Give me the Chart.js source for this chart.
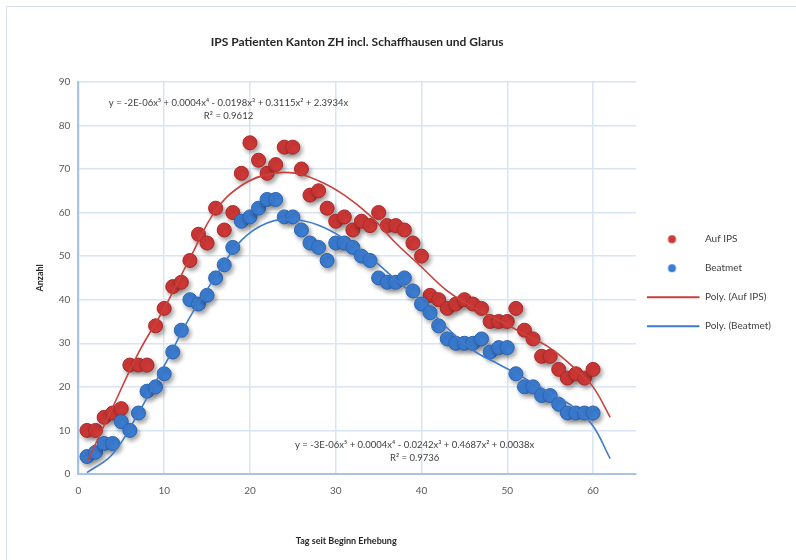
<!DOCTYPE html>
<html><head><meta charset="utf-8">
<script src="https://cdn.jsdelivr.net/npm/chart.js@4"></script>
<style>html,body{margin:0;padding:0;background:#fff}#wrap{width:796px;height:560px;position:relative}</style>
</head><body><div id="wrap"><canvas id="c" width="796" height="560"></canvas></div>
<script>
// ---- data ----
const days = [1,2,3,4,5,6,7,8,9,10,11,12,13,14,15,16,17,18,19,20,21,22,23,24,25,26,27,28,29,30,
              31,32,33,34,35,36,37,38,39,40,41,42,43,44,45,46,47,48,49,50,51,52,53,54,55,56,57,58,59,60];
const aufIPS = [10,10,13,14,15,25,25,25,34,38,43,44,49,55,53,61,56,60,69,76,72,69,71,75,75,70,64,65,61,58,
                59,56,58,57,60,57,57,56,53,50,41,40,38,39,40,39,38,35,35,35,38,33,31,27,27,24,22,23,22,24];
const beatmet = [4,5,7,7,12,10,14,19,20,23,28,33,40,39,41,45,48,52,58,59,61,63,63,59,59,56,53,52,49,53,
                 53,52,50,49,45,44,44,45,42,39,37,34,31,30,30,30,31,28,29,29,23,20,20,18,18,16,14,14,14,14];
// polynomial trend lines
const trendDays = [1,4,7,10,13,16,19,22,25,28,31,34,37,40,43,46,49,52,55,58,60,62];
const trendAuf  = [2.7,15.3,27.8,38,49.5,60.5,66.2,68.7,69.1,67.3,64,59.3,53,47.5,42,38.3,35.3,32.1,28.9,24,20,13];
const trendBeat = [0.3,4.6,14,24.8,36,45.3,53.6,57.6,58.4,57.1,54,49.7,44.6,39.5,33.5,28.4,25.2,22,18.6,15,11,3.5];
const yTicks = [0,10,20,30,40,50,60,70,80,90];
const xTicks = [0,10,20,30,40,50,60];
const seriesLabels = ['Auf IPS','Beatmet','Poly. (Auf IPS)','Poly. (Beatmet)'];
const eqAuf = ['y = -2E-06x\u2075 + 0.0004x\u2074 - 0.0198x\u00B3 + 0.3115x\u00B2 + 2.3934x', 'R\u00B2 = 0.9612'];
const eqBeat = ['y = -3E-06x\u2075 + 0.0004x\u2074 - 0.0242x\u00B3 + 0.4687x\u00B2 + 0.0038x', 'R\u00B2 = 0.9736'];

const FONT = 'Lato, "Open Sans", "Liberation Sans", sans-serif';
const RED = '#CF3836', BLUE = '#3B7DD3';

function legendStyle(kind, color) {
  const c = document.createElement('canvas'); c.width = 60; c.height = 12;
  const g = c.getContext('2d');
  if (kind === 'dot') { g.fillStyle = color; g.beginPath(); g.arc(24.5, 6, 4, 0, Math.PI * 2); g.fill(); }
  else { g.strokeStyle = color; g.lineWidth = 2; g.beginPath(); g.moveTo(0, 6); g.lineTo(52, 6); g.stroke(); }
  return c;
}
const legendStyles = [legendStyle('dot', RED), legendStyle('dot', BLUE), legendStyle('line', '#C8413B'), legendStyle('line', '#3F7BC8')];

const bgPlugin = {
  id: 'bg',
  beforeDraw(chart) {
    const ctx = chart.ctx; ctx.save();
    ctx.fillStyle = '#fff'; ctx.fillRect(0, 0, chart.width, chart.height);
    ctx.strokeStyle = '#D5DDE8'; ctx.lineWidth = 1;
    ctx.beginPath(); ctx.moveTo(6.5, chart.height); ctx.lineTo(6.5, 6.5); ctx.lineTo(chart.width, 6.5); ctx.stroke();
    ctx.restore();
  }
};
const shadowPlugin = {
  id: 'shadow',
  beforeDatasetDraw(chart, args) {
    if (chart.data.datasets[args.index].isPoints) {
      const ctx = chart.ctx; ctx.save();
      ctx.shadowColor = 'rgba(0,0,0,0.35)'; ctx.shadowBlur = 4; ctx.shadowOffsetX = 2; ctx.shadowOffsetY = 3;
    }
  },
  afterDatasetDraw(chart, args) {
    if (chart.data.datasets[args.index].isPoints) chart.ctx.restore();
  }
};
const eqPlugin = {
  id: 'eq',
  afterDatasetsDraw(chart) {
    const {ctx, scales: {x, y}} = chart;
    const items = [{pos: [17.5, 85.2], lines: eqAuf}, {pos: [39.2, 6.7], lines: eqBeat}];
    ctx.save();
    ctx.font = '9.5px ' + FONT; ctx.fillStyle = '#404040'; ctx.textAlign = 'center'; ctx.textBaseline = 'middle';
    items.forEach(it => {
      const px = x.getPixelForValue(it.pos[0]), py = y.getPixelForValue(it.pos[1]);
      it.lines.forEach((t, i) => ctx.fillText(t, px, py + i * 13.5));
    });
    ctx.restore();
  }
};

const tickFont = {family: FONT, size: 10};
const titleFont = {family: FONT, size: 9, weight: 'bold'};

new Chart(document.getElementById('c'), {
  type: 'scatter',
  data: {
    datasets: [
      {label: seriesLabels[0], data: days.map((d, i) => ({x: d, y: aufIPS[i]})), backgroundColor: RED, borderColor: '#A92A2A',
       borderWidth: 1, pointRadius: 7, pointHoverRadius: 7, order: 3, isPoints: true},
      {label: seriesLabels[1], data: days.map((d, i) => ({x: d, y: beatmet[i]})), backgroundColor: BLUE, borderColor: '#2D65B0',
       borderWidth: 1, pointRadius: 7, pointHoverRadius: 7, order: 2, isPoints: true},
      {label: seriesLabels[2], type: 'line', data: trendDays.map((d, i) => ({x: d, y: trendAuf[i]})), borderColor: '#C8413B',
       borderWidth: 1.6, pointRadius: 0, showLine: true, tension: 0.4, fill: false, order: 1},
      {label: seriesLabels[3], type: 'line', data: trendDays.map((d, i) => ({x: d, y: trendBeat[i]})), borderColor: '#3F7BC8',
       borderWidth: 1.6, pointRadius: 0, showLine: true, tension: 0.4, fill: false, order: 0}
    ]
  },
  options: {
    responsive: false, animation: false, devicePixelRatio: 1,
    layout: {padding: {top: 19, left: 35, right: 15, bottom: 13.6}},
    plugins: {
      title: {display: true, fullSize: false, text: 'IPS Patienten Kanton ZH incl. Schaffhausen und Glarus',
              font: {family: FONT, size: 12, weight: 'bold'}, color: '#262626', padding: {top: 15.8, bottom: 32.6}},
      legend: {position: 'right', maxWidth: 149,
        labels: {usePointStyle: true, pointStyleWidth: 45, padding: 19, font: {family: FONT, size: 10}, color: '#404040',
          generateLabels: chart => chart.data.datasets.map((ds, i) => ({text: ds.label, pointStyle: legendStyles[i],
            fillStyle: 'transparent', strokeStyle: 'transparent', lineWidth: 0, hidden: false, datasetIndex: i, fontColor: '#404040'}))}},
      tooltip: {enabled: false}
    },
    scales: {
      x: {type: 'linear', min: 0, max: 65,
          afterBuildTicks: s => { s.ticks = xTicks.map(v => ({value: v})); },
          ticks: {stepSize: 10, padding: 11, font: tickFont, color: '#595959'},
          grid: {color: '#D9E4F4', lineWidth: 1.5, drawTicks: false},
          border: {color: '#A8C3E6', width: 2},
          title: {display: true, text: 'Tag seit Beginn Erhebung          ', font: titleFont, color: '#262626', padding: {top: 27.6, bottom: 0}}},
      y: {type: 'linear', min: 0, max: 90,
          afterBuildTicks: s => { s.ticks = yTicks.map(v => ({value: v})); },
          ticks: {stepSize: 10, padding: 8, font: tickFont, color: '#595959'},
          grid: {color: '#D9E4F4', lineWidth: 1.5, drawTicks: false},
          border: {color: '#A8C3E6', width: 2},
          title: {display: true, text: 'Anzahl', font: titleFont, color: '#262626', padding: {top: 0, bottom: 5}}}
    }
  },
  plugins: [bgPlugin, shadowPlugin, eqPlugin]
});
</script></body></html>
